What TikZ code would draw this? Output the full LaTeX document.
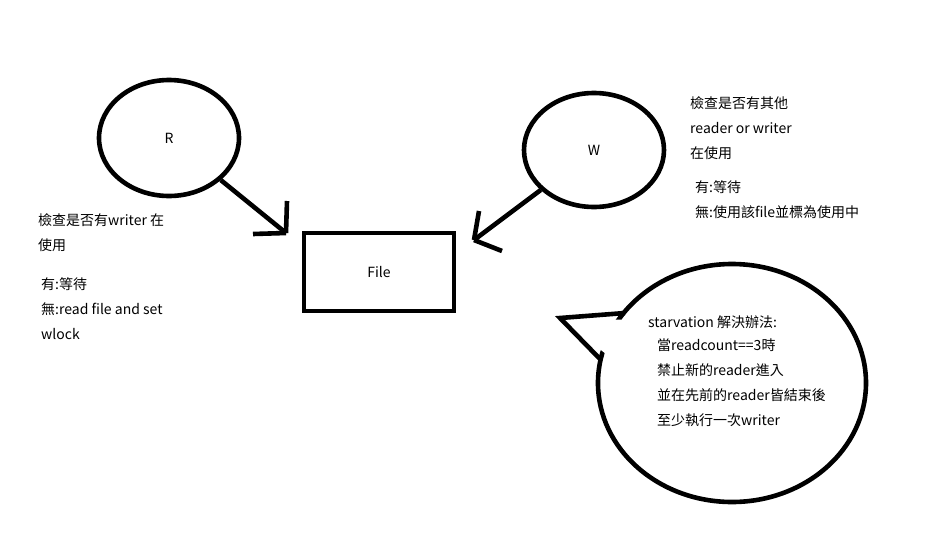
\documentclass[tikz,border=0pt]{standalone}
\usepackage{fontspec}
\setmainfont{Noto Sans CJK TC}
\usetikzlibrary{shapes.geometric}

\begin{document}
\begin{tikzpicture}[x=1pt,y=-1pt,
  every node/.style={font=\fontsize{14}{25}\selectfont},
  oval/.style={draw,ellipse,line width=4.6pt,inner sep=0pt},
  thick line/.style={line width=4.6pt},
  note/.style={anchor=west,align=left,inner sep=0pt}]
\useasboundingbox (0,0) rectangle (948,552);

\node[oval,minimum width=140,minimum height=116] (R) at (169,138) {R};
\node[oval,minimum width=140,minimum height=114] (W) at (594,150) {W};

\node[draw,line width=4.6pt,minimum width=150,minimum height=78,inner sep=0pt] (file) at (379,272) {File};

\coordinate (rtip) at (286,233);
\draw[thick line] (R) -- (rtip);
\draw[thick line] (rtip) -- +(-33,1) (rtip) -- +(1,-32);

\coordinate (wtip) at (474,240);
\draw[thick line] (W) -- (wtip);
\draw[thick line] (wtip) -- +(5,-29) (wtip) -- +(28,11);

\node[note] (rcheck) at (38,232.5) {檢查是否有writer 在\\使用};
\node[note] (rresult) at (41,308.5) {有:等待\\無:read file and set\\wlock};

\node[note] (wcheck) at (690,128) {檢查是否有其他\\reader or writer\\在使用};
\node[note] (wresult) at (695,199.5) {有:等待\\無:使用該file並標為使用中};

\node[oval,minimum width=268,minimum height=238] (bubble) at (732,383) {};
\coordinate (tailtop) at (625,313);
\coordinate (tailtip) at (560,318);
\coordinate (tailbot) at (601,360);
\fill[white] (630,320) -- (tailtip) -- (606,354) -- cycle;
\draw[thick line,line join=miter] (tailtop) -- (tailtip) -- (tailbot);

\node[note] (starve) at (648,322) {starvation 解決辦法:};
\node[note] (fix) at (657,383) {當readcount==3時\\禁止新的reader進入\\並在先前的reader皆結束後\\至少執行一次writer};

\end{tikzpicture}
\end{document}
